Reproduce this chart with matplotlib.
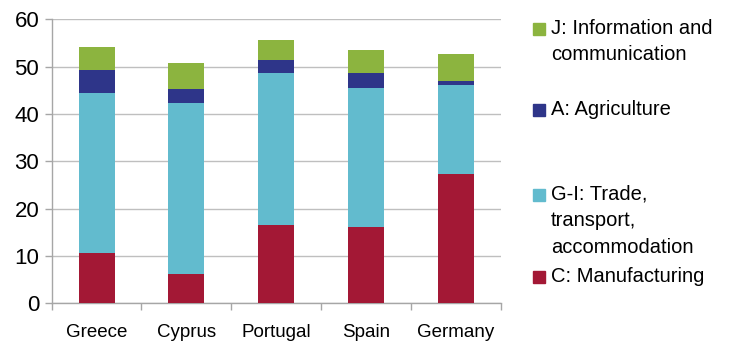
import matplotlib
matplotlib.use("Agg")
import matplotlib.pyplot as plt
from matplotlib.patches import Rectangle

plt.rcParams['font.family'] = ['Liberation Sans', 'DejaVu Sans']

countries = ["Greece", "Cyprus", "Portugal", "Spain", "Germany"]
manufacturing = [10.7, 6.25, 16.5, 16.1, 27.3]
trade = [33.8, 36.05, 32.1, 29.5, 18.9]
agriculture = [4.9, 3.0, 2.9, 3.1, 0.8]
ict = [4.7, 5.5, 4.2, 4.9, 5.7]

series = [
    ("C: Manufacturing", manufacturing, "#A31835"),
    ("G-I: Trade,\ntransport,\naccommodation", trade, "#62BBCE"),
    ("A: Agriculture", agriculture, "#2E3589"),
    ("J: Information and\ncommunication", ict, "#8CB43F"),
]

fig = plt.figure(figsize=(7.30, 3.53), dpi=100)
ax = fig.add_axes([0.0708, 0.141, 0.615, 0.804])

x = list(range(len(countries)))
bottom = [0.0] * len(countries)
for label, vals, color in series:
    ax.bar(x, vals, width=0.4, bottom=bottom, color=color, zorder=3)
    bottom = [b + v for b, v in zip(bottom, vals)]

ax.set_ylim(0, 60)
ax.set_xlim(-0.5, len(countries) - 0.5)
ax.set_yticks(range(0, 61, 10))
ax.yaxis.grid(True, color="#BFBFBF", linewidth=1, zorder=0)
ax.set_axisbelow(True)
ax.set_xticks(x)
ax.set_xticklabels(countries, fontsize=13.5)
ax.set_xticks([i - 0.5 for i in range(len(countries) + 1)], minor=True)
ax.tick_params(axis='x', which='major', length=0, pad=15)
ax.tick_params(axis='x', which='minor', length=5, color="#A6A6A6", width=1)
ax.tick_params(axis='y', length=5, color="#A6A6A6", width=1, labelsize=16, pad=4)
for s in ["top", "right"]:
    ax.spines[s].set_visible(False)
for s in ["left", "bottom"]:
    ax.spines[s].set_color("#A6A6A6")
    ax.spines[s].set_linewidth(1)

# legend (manual, Excel style)
W, H = 730.0, 353.0
entries = [
    (series[3][0], series[3][2], 29),
    (series[2][0], series[2][2], 110),
    (series[1][0], series[1][2], 195),
    (series[0][0], series[0][2], 277),
]
for label, color, ypix in entries:
    fig.patches.append(Rectangle((533 / W, 1 - (ypix + 6) / H), 12 / W, 12 / H,
                                 transform=fig.transFigure, color=color))
    fig.text(551 / W, 1 - (ypix - 10) / H, label, fontsize=14.5, va="top", ha="left",
             linespacing=1.5)

fig.savefig("out.png", dpi=100)
